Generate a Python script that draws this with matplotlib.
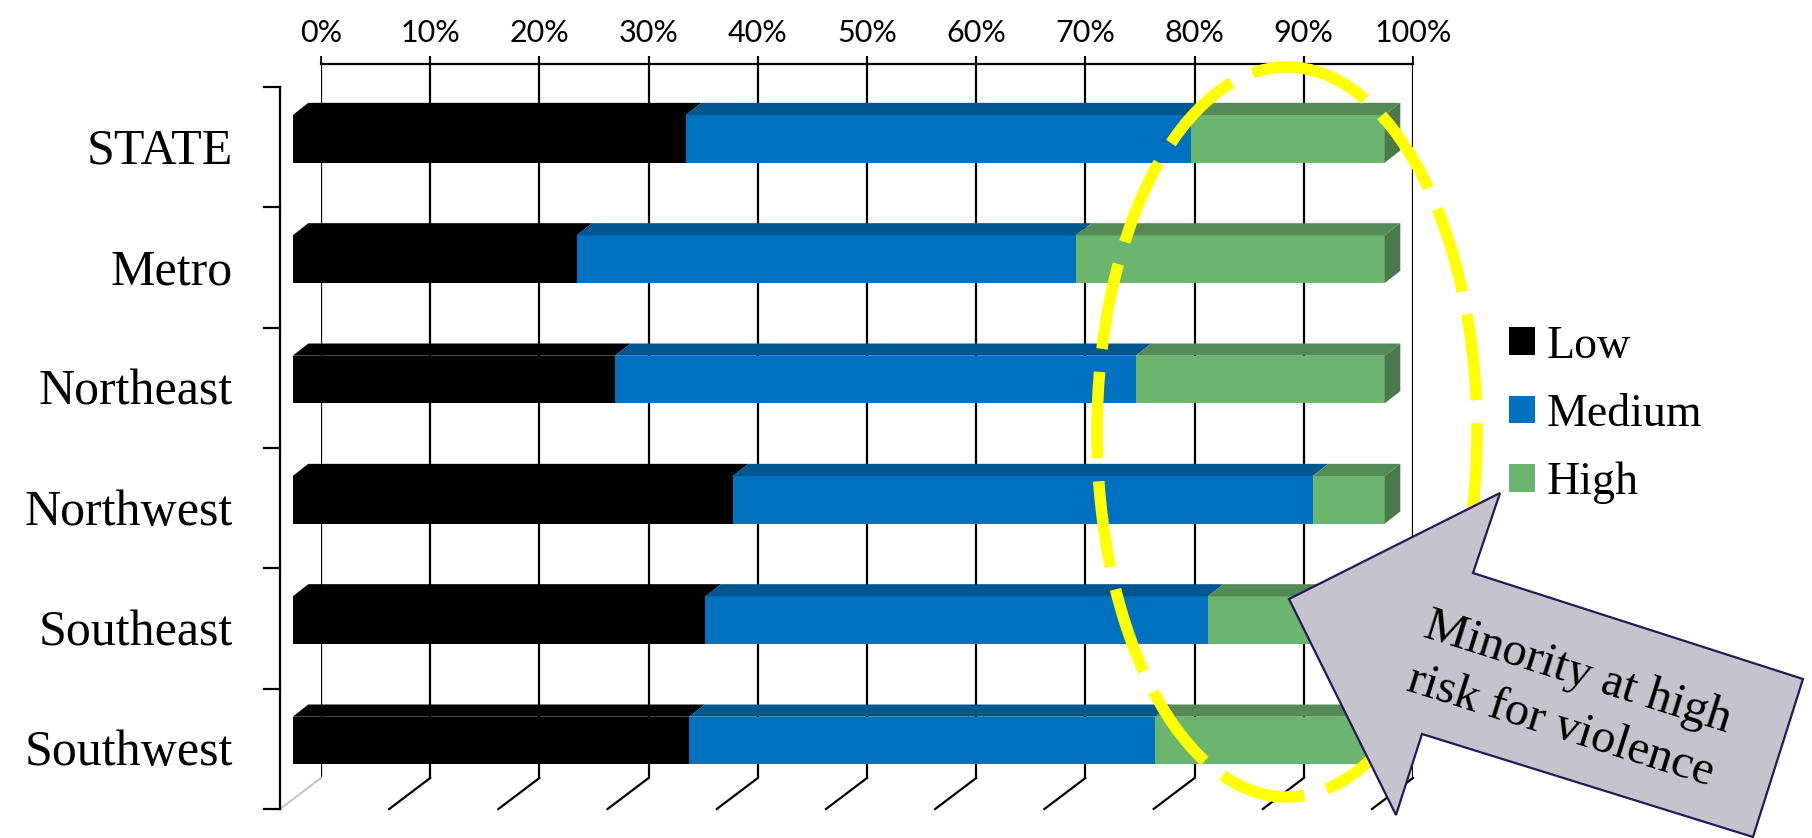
# 3D-style 100% stacked bar chart: risk level by region
import matplotlib
matplotlib.use('agg')
import matplotlib.pyplot as plt
from matplotlib.patches import Polygon, Ellipse
import numpy as np

regions = ['STATE', 'Metro', 'Northeast', 'Northwest', 'Southeast', 'Southwest']
low = [36.0, 26.0, 29.5, 40.3, 37.8, 36.3]
medium = [46.3, 45.7, 47.7, 53.1, 46.0, 42.7]
high = [17.7, 28.3, 22.8, 6.6, 16.2, 21.0]
series_names = ['Low', 'Medium', 'High']
pct_ticks = list(range(0, 101, 10))
note = 'Minority at high\nrisk for violence'

front_colors = ['#000000', '#0070C0', '#6CB56E']
top_colors = ['#000000', '#00568F', '#548A55']
side_colors = ['#000000', '#00487A', '#4A7A4B']

serif = 'Liberation Serif'

W, H = 1812, 838
fig = plt.figure(figsize=(W / 100, H / 100), dpi=100)
# the axes is the back wall of the 3d box
ax = fig.add_axes([321 / W, 1 - 778 / H, 1092 / W, 722 / H])
ax.set_xlim(0, 100)
ax.set_ylim(len(regions) - 0.5, -0.5)
ax.set_autoscale_on(False)

# pixel -> data helpers (y grows downward on screen)
kx = ax.bbox.width / 100
ky = ax.bbox.height / len(regions)
def dx(px):
    return px / kx
def dy(px):
    return px / ky

front = (dx(-28.3), dy(22.7))   # bar front face
back = (dx(-12.7), dy(10.5))    # bar back face
floor = (dx(-41), dy(31))       # front edge of the box
bar_h = 0.396

vals = np.array([low, medium, high])
pct = vals / vals.sum(axis=0) * 100
y = np.arange(len(regions))
n = len(regions)

# wall: grid and top axis
ax.grid(axis='x', color='black', lw=1.6, zorder=0)
ax.set_axisbelow(True)
ax.set_xticks(pct_ticks, [f'{t}%' for t in pct_ticks])
ax.xaxis.tick_top()
ax.spines['top'].set_position(('data', -0.5 + dy(8)))
ax.tick_params(axis='x', direction='out', length=5.8, width=1.2, pad=6.5,
               labelsize=22, labelfontfamily='Lato')
ax.set_yticks([])
for s in ['left', 'right', 'bottom']:
    ax.spines[s].set_visible(False)
ax.spines['top'].set_linewidth(1.6)

# floor lines
for t in pct_ticks:
    ax.plot([t, t + floor[0]], [n - 0.5, n - 0.5 + floor[1]],
            color='black' if t else '#C8C8C8', lw=1.6, clip_on=False, zorder=1)

# front left axis
ax.plot([floor[0], floor[0]], [-0.5 + floor[1], n - 0.5 + floor[1]],
        color='black', lw=1.6, clip_on=False)
for e in np.arange(-0.5, n):
    ax.plot([floor[0] - dx(16), floor[0]], [e + floor[1]] * 2,
            color='black', lw=1.6, clip_on=False)

# category labels
for i, name in enumerate(regions):
    ax.text(floor[0] - dx(47), i + floor[1] + dy(16.5), name, ha='right',
            va='baseline', fontsize=36, family=serif)

# bars: front faces, top faces, then the right side face
left = np.zeros(n)
for k, name in enumerate(series_names):
    w = pct[k]
    ax.barh(y + front[1], w, left=left + front[0], height=bar_h,
            color=front_colors[k], label=name, zorder=3, clip_on=False)
    for i in range(n):
        a, b = left[i], left[i] + w[i]
        yf = i + front[1] - bar_h / 2
        yb = i + back[1] - bar_h / 2
        ax.add_patch(Polygon([(a + front[0], yf), (a + back[0], yb),
                              (b + back[0], yb), (b + front[0], yf)],
                             closed=True, fc=top_colors[k], ec='none',
                             zorder=3, clip_on=False))
    left += w
for i in range(n):
    b = left[i]
    yf = i + front[1] - bar_h / 2
    yb = i + back[1] - bar_h / 2
    ax.add_patch(Polygon([(b + front[0], yf), (b + back[0], yb),
                          (b + back[0], yb + bar_h), (b + front[0], yf + bar_h)],
                         closed=True, fc=side_colors[2], ec='none',
                         zorder=3, clip_on=False))

ax.legend(loc='upper left', bbox_to_anchor=(1509 / W, 1 - 325 / H),
          bbox_transform=fig.transFigure, frameon=False,
          prop={'family': serif, 'size': 33}, handlelength=0.56,
          handleheight=0.56, handletextpad=0.25, labelspacing=0.56,
          borderpad=0, borderaxespad=0)

# yellow dashed highlight
ax.add_patch(Ellipse((dx(1287 - 321), dy(432 - 56) - 0.5), dx(380), dy(730),
                     fill=False, ec='#FFFF00', lw=8.3, ls=(0, (7.5, 2.0)),
                     zorder=5, clip_on=False))

# callout arrow
arrow_px = [(1289, 599), (1500, 493), (1473, 573), (1803, 679),
            (1753, 837), (1422, 734), (1396, 815)]
fig.patches.append(Polygon([(px / W, 1 - py / H) for px, py in arrow_px],
                           closed=True, fc='#C5C4CC', ec='#26195A', lw=1.6,
                           transform=fig.transFigure, zorder=6))
fig.text(1569 / W, 1 - 700 / H, note, rotation=-17.5, rotation_mode='anchor',
         ha='center', va='center', multialignment='center', fontsize=35,
         family=serif, linespacing=1.35, zorder=7)

plt.savefig('out.png', dpi=100)
